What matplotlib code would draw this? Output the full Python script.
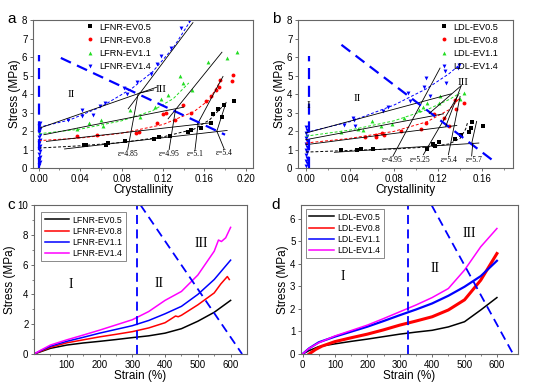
import matplotlib.pyplot as plt

plt.rcParams['font.family'] = ['Liberation Sans', 'DejaVu Sans']

# ---------------- panel a data (crystallinity vs stress) ----------------
a_names = ['LFNR-EV0.5', 'LFNR-EV0.8', 'LFRN-EV1.1', 'LFNR-EV1.4']
a_x_05 = [0.044, 0.0455, 0.065, 0.067, 0.083, 0.111, 0.116, 0.127, 0.1445, 0.147, 0.157, 0.166, 0.168, 0.173, 0.177, 0.179, 0.189]
a_y_05 = [1.22, 1.24, 1.26, 1.35, 1.46, 1.56, 1.69, 1.74, 1.94, 2.03, 2.19, 2.43, 2.93, 3.18, 2.75, 3.38, 3.62]
a_x_08 = [0.037, 0.0565, 0.094, 0.097, 0.114, 0.12, 0.123, 0.132, 0.139, 0.147, 0.162, 0.166, 0.171, 0.174, 0.175, 0.187, 0.188]
a_y_08 = [1.71, 1.78, 1.89, 1.94, 2.46, 2.9, 2.97, 2.61, 3.4, 2.95, 3.63, 3.9, 4.23, 4.37, 4.77, 4.68, 5.04]
a_x_11 = [0.037, 0.049, 0.06, 0.062, 0.088, 0.0975, 0.112, 0.118, 0.125, 0.136, 0.139, 0.148, 0.164, 0.182, 0.192]
a_y_11 = [2.1, 2.43, 2.6, 2.25, 3.11, 2.75, 3.3, 3.72, 3.96, 4.96, 4.59, 4.23, 5.72, 5.97, 6.29]
a_x_14 = [0.028, 0.042, 0.042, 0.0525, 0.059, 0.064, 0.082, 0.085, 0.0945, 0.108, 0.114, 0.118, 0.128, 0.137, 0.145]
a_y_14 = [2.6, 3.15, 2.82, 2.88, 3.35, 3.54, 4.3, 4.0, 4.64, 5.09, 5.61, 6.06, 6.51, 7.55, 7.95]
a_zero_x = [0.0, 0.0008, 0.0, 0.0008, 0.0, 0.0008, 0.0, 0.0008, 0.0, 0.0008, 0.0, 0.0008, 0.0, 0.0008, 0.0, 0.0008]
a_zero_y = [0.15, 0.3, 0.45, 0.6, 0.75, 0.9, 1.05, 1.2, 1.35, 1.5, 1.65, 1.8, 1.95, 2.1, 2.25, 2.45]

# dashed fit curves
a_fx_05 = [0, 0.04, 0.08, 0.12, 0.15, 0.165, 0.177]
a_fy_05 = [1.08, 1.2, 1.38, 1.68, 2.1, 2.6, 3.3]
a_fx_08 = [0, 0.04, 0.08, 0.12, 0.15, 0.165, 0.177]
a_fy_08 = [1.48, 1.62, 1.88, 2.35, 3.05, 3.7, 4.85]
a_fx_11 = [0, 0.04, 0.08, 0.11, 0.13, 0.145]
a_fy_11 = [1.85, 2.1, 2.55, 3.1, 3.75, 4.6]
a_fx_14 = [0, 0.03, 0.06, 0.09, 0.11, 0.13, 0.147]
a_fy_14 = [2.2, 2.6, 3.3, 4.3, 5.2, 6.5, 8.0]

# black two-stage linear fits ((x0, x1), (y0, y1))
a_lines = [((0.001, 0.114), (2.16, 4.37)), ((0.0865, 0.149), (3.2, 7.86)),
           ((0.005, 0.14), (1.8, 3.29)), ((0.125, 0.177), (2.66, 6.26)),
           ((0.0075, 0.164), (1.44, 2.43)), ((0.153, 0.178), (2.34, 4.95)),
           ((0.025, 0.182), (1.03, 2.03)), ((0.172, 0.181), (1.98, 3.55))]
a_eps_text = ['ε=4.85', 'ε=4.95', 'ε=5.1', 'ε=5.4']
a_eps_x = [0.086, 0.126, 0.151, 0.179]
a_eps_y = [0.55, 0.55, 0.55, 0.6]
a_eps_tip = [(0.096, 4.0), (0.132, 3.12), (0.154, 2.4), (0.172, 2.0)]

# ---------------- panel b data ----------------
b_names = ['LDL-EV0.5', 'LDL-EV0.8', 'LDL-EV1.1', 'LDL-EV1.4']
b_x_05 = [0.0324, 0.0463, 0.0503, 0.061, 0.1097, 0.115, 0.117, 0.121, 0.135, 0.1405, 0.148, 0.1495, 0.1505, 0.161]
b_y_05 = [0.95, 0.99, 1.03, 1.04, 1.04, 1.29, 1.2, 1.38, 1.58, 1.8, 1.95, 2.15, 2.48, 2.28]
b_x_08 = [0.054, 0.0633, 0.064, 0.0695, 0.071, 0.086, 0.105, 0.109, 0.116, 0.125, 0.13, 0.135, 0.136, 0.144]
b_y_08 = [1.67, 1.8, 1.65, 1.89, 1.8, 1.98, 2.1, 2.46, 2.91, 2.7, 2.25, 3.69, 3.2, 3.5]
b_x_11 = [0.032, 0.047, 0.052, 0.06, 0.068, 0.078, 0.089, 0.1025, 0.1066, 0.11, 0.121, 0.122, 0.14, 0.144]
b_y_11 = [1.92, 2.1, 2.07, 2.52, 2.25, 2.37, 2.7, 3.11, 3.29, 3.5, 3.54, 3.87, 3.72, 4.08]
b_x_14 = [0.0346, 0.0426, 0.044, 0.045, 0.0704, 0.075, 0.0927, 0.095, 0.1075, 0.1087, 0.113, 0.1266, 0.1275, 0.1378, 0.139]
b_y_14 = [2.34, 2.7, 2.57, 2.28, 3.09, 3.29, 4.08, 3.6, 4.37, 4.86, 3.87, 5.22, 4.62, 5.43, 5.56]
b_zero_x = [0.0, 0.0008, 0.0, 0.0008, 0.0, 0.0008, 0.0, 0.0008, 0.0, 0.0008, 0.0, 0.0008, 0.0, 0.0008, 0.0]
b_zero_y = [0.1, 0.25, 0.4, 0.55, 0.7, 0.85, 1.0, 1.15, 1.3, 1.45, 1.6, 1.75, 1.9, 2.05, 2.2]

b_fx_05 = [0, 0.04, 0.08, 0.11, 0.13, 0.14, 0.145, 0.147]
b_fy_05 = [0.86, 0.95, 1.03, 1.13, 1.3, 1.6, 2.1, 2.5]
b_fx_08 = [0, 0.04, 0.08, 0.11, 0.13, 0.14]
b_fy_08 = [1.35, 1.6, 1.98, 2.5, 3.15, 3.8]
b_fx_11 = [0, 0.04, 0.08, 0.11, 0.13, 0.14]
b_fy_11 = [1.72, 2.05, 2.55, 3.15, 3.7, 4.05]
b_fx_14 = [0, 0.04, 0.08, 0.11, 0.13, 0.14]
b_fy_14 = [1.92, 2.5, 3.4, 4.3, 5.1, 5.6]

b_lines = [((0.0, 0.132), (1.89, 4.01)), ((0.079, 0.1218), (0.63, 5.4)),
           ((0.0, 0.125), (1.53, 2.93)), ((0.1067, 0.1385), (0.72, 3.96)),
           ((0.0, 0.137), (1.26, 2.3)), ((0.1294, 0.14), (0.72, 3.87)),
           ((0.026, 0.157), (0.85, 1.35)), ((0.1506, 0.155), (1.35, 2.52))]
b_eps_text = ['ε=4.95', 'ε=5.25', 'ε=5.4', 'ε=5.7']
b_eps_x = [0.078, 0.104, 0.13, 0.153]
b_eps_y = [0.2, 0.2, 0.2, 0.2]

# ---------------- panel c data (strain vs stress) ----------------
c_names = ['LFNR-EV0.5', 'LFNR-EV0.8', 'LFNR-EV1.1', 'LFNR-EV1.4']
c_x = [0, 20, 50, 100, 150, 200, 250, 300, 350, 400, 450, 500, 550, 600]
c_y_05 = [0, 0.15, 0.38, 0.6, 0.74, 0.85, 0.97, 1.1, 1.22, 1.4, 1.7, 2.2, 2.8, 3.6]
c_y_11 = [0, 0.22, 0.52, 0.85, 1.12, 1.4, 1.65, 1.9, 2.25, 2.7, 3.2, 4.0, 5.0, 6.3]
c_x_08 = [0, 20, 50, 100, 150, 200, 250, 300, 350, 400, 425, 432, 440, 450, 500, 550, 570, 590, 596]
c_y_08 = [0, 0.18, 0.45, 0.75, 0.95, 1.15, 1.32, 1.5, 1.75, 2.1, 2.45, 2.55, 2.5, 2.6, 3.3, 4.1, 4.7, 5.2, 5.0]
c_x_14 = [0, 20, 50, 100, 150, 200, 250, 300, 350, 400, 450, 500, 550, 563, 572, 585, 600]
c_y_14 = [0, 0.25, 0.6, 0.95, 1.27, 1.6, 1.95, 2.3, 2.85, 3.6, 4.2, 5.3, 6.9, 7.65, 7.55, 7.8, 8.5]

# ---------------- panel d data ----------------
d_names = ['LDL-EV0.5', 'LDL-EV0.8', 'LDL-EV1.1', 'LDL-EV1.4']
d_x = [0, 20, 50, 100, 150, 200, 250, 300, 350, 400, 450, 500, 550, 600]
d_y_05 = [0, 0.15, 0.33, 0.45, 0.56, 0.66, 0.77, 0.88, 0.97, 1.05, 1.2, 1.43, 1.95, 2.5]
d_x_08 = [20, 40, 60, 100, 150, 200, 250, 300, 350, 400, 450, 500, 550, 600]
d_y_08 = [0, 0.2, 0.35, 0.55, 0.72, 0.88, 1.07, 1.28, 1.46, 1.65, 1.95, 2.4, 3.27, 4.45]
d_y_11 = [0, 0.25, 0.52, 0.77, 0.99, 1.21, 1.46, 1.72, 1.97, 2.24, 2.58, 2.98, 3.45, 4.13]
d_y_14 = [0, 0.25, 0.5, 0.8, 1.04, 1.28, 1.57, 1.87, 2.17, 2.5, 2.9, 3.72, 4.75, 5.56]

blk, red, grn, blu, mag = 'black', '#ff0000', '#22dd22', '#0000ff', '#ff00ff'
serif = 'Liberation Serif'

fig = plt.figure(figsize=(5.33, 3.85), dpi=100)
ax_a = fig.add_axes([0.0619, 0.5636, 0.4128, 0.3844])
ax_b = fig.add_axes([0.5591, 0.5636, 0.4034, 0.3844])
ax_c = fig.add_axes([0.0638, 0.0805, 0.3996, 0.387])
ax_d = fig.add_axes([0.5647, 0.0805, 0.4071, 0.387])

for ax in [ax_a, ax_b, ax_c, ax_d]:
    for s in ax.spines.values():
        s.set_color('#666666')
        s.set_linewidth(0.8)
    ax.tick_params(labelsize=7, length=2.5, width=0.6, color='#555555', pad=1.5)
    ax.tick_params(which='minor', length=1.5, width=0.5, color='#555555')
    ax.set_ylabel('Stress (MPa)', fontsize=8.5, labelpad=1)

ms = 2.8
leg_kw = dict(frameon=False, fontsize=6.6, handletextpad=0.2, labelspacing=0.45,
              borderaxespad=0.2, handlelength=1.6)

# ---- a ----
ax_a.plot(a_zero_x, a_zero_y, 'v', color=blu, ms=ms, mew=0)
ax_a.plot(a_x_05, a_y_05, 's', color=blk, ms=2.5, mew=0, label=a_names[0])
ax_a.plot(a_x_08, a_y_08, 'o', color=red, ms=ms, mew=0, label=a_names[1])
ax_a.plot(a_x_11, a_y_11, '^', color=grn, ms=ms, mew=0, label=a_names[2])
ax_a.plot(a_x_14, a_y_14, 'v', color=blu, ms=ms, mew=0, label=a_names[3])
ax_a.plot(a_fx_05, a_fy_05, '--', color=blk, lw=0.7, dashes=(3, 2))
ax_a.plot(a_fx_08, a_fy_08, '--', color=red, lw=0.7, dashes=(3, 2))
ax_a.plot(a_fx_11, a_fy_11, '--', color=grn, lw=0.7, dashes=(3, 2))
ax_a.plot(a_fx_14, a_fy_14, '--', color=blu, lw=0.7, dashes=(3, 2))
for (xs, ys) in a_lines:
    ax_a.plot(xs, ys, color=blk, lw=0.6)
ax_a.plot([0.0005, 0.0005], [0, 6.1], color=blu, lw=1.6, dashes=(5, 3))
ax_a.plot([0.0214, 0.18], [5.95, 1.8], color=blu, lw=1.6, dashes=(5, 3))
for t, x, y, tip in zip(a_eps_text, a_eps_x, a_eps_y, a_eps_tip):
    ax_a.text(x, y, t, fontsize=5.5, family=serif, ha='center', va='bottom')
    ax_a.plot([x, tip[0]], [y + 0.45, tip[1]], color=blk, lw=0.6)
ax_a.text(0.0314, 4.0, 'II', fontsize=8, family=serif, ha='center', va='center')
ax_a.text(0.1177, 4.27, 'III', fontsize=8, family=serif, ha='center', va='center')
ax_a.plot([0.111, 0.097], [4.22, 4.05], color=blk, lw=0.6)
ax_a.set_xlim(-0.0055, 0.207)
ax_a.set_ylim(0, 8)
ax_a.set_xticks([0, 0.04, 0.08, 0.12, 0.16, 0.20])
ax_a.set_xticks([0.02, 0.06, 0.10, 0.14, 0.18], minor=True)
ax_a.set_xticklabels(['0.00', '0.04', '0.08', '0.12', '0.16', '0.20'])
ax_a.set_yticks(range(0, 9))
ax_a.set_xlabel('Crystallinity', fontsize=8.5, labelpad=0)
ax_a.legend(loc='upper left', bbox_to_anchor=(0.2, 1.02), **leg_kw)

# ---- b ----
ax_b.plot(b_zero_x, b_zero_y, 'v', color=blu, ms=ms, mew=0)
ax_b.plot(b_x_05, b_y_05, 's', color=blk, ms=2.5, mew=0, label=b_names[0])
ax_b.plot(b_x_08, b_y_08, 'o', color=red, ms=ms, mew=0, label=b_names[1])
ax_b.plot(b_x_11, b_y_11, '^', color=grn, ms=ms, mew=0, label=b_names[2])
ax_b.plot(b_x_14, b_y_14, 'v', color=blu, ms=ms, mew=0, label=b_names[3])
ax_b.plot(b_fx_05, b_fy_05, '--', color=blk, lw=0.7, dashes=(3, 2))
ax_b.plot(b_fx_08, b_fy_08, '--', color=red, lw=0.7, dashes=(3, 2))
ax_b.plot(b_fx_11, b_fy_11, '--', color=grn, lw=0.7, dashes=(3, 2))
ax_b.plot(b_fx_14, b_fy_14, '--', color=blu, lw=0.7, dashes=(3, 2))
for (xs, ys) in b_lines:
    ax_b.plot(xs, ys, color=blk, lw=0.6)
ax_b.plot([0.0032, 0.0032], [0, 6.05], color=blu, lw=1.6, dashes=(5, 3))
ax_b.plot([0.0324, 0.1688], [6.66, 0.45], color=blu, lw=1.6, dashes=(5, 3))
for t, x, y in zip(b_eps_text, b_eps_x, b_eps_y):
    ax_b.text(x, y, t, fontsize=5.5, family=serif, ha='center', va='bottom')
ax_b.plot([0.1505, 0.1515], [0.65, 1.35], color=blk, lw=0.6)
ax_b.plot([0.141, 0.112], [4.45, 2.95], color=blk, lw=0.6)
ax_b.plot([0.141, 0.127], [4.45, 2.25], color=blk, lw=0.6)
ax_b.text(0.002, 3.37, 'I', fontsize=8, family=serif, ha='center', va='center')
ax_b.text(0.047, 3.78, 'II', fontsize=8, family=serif, ha='center', va='center')
ax_b.text(0.143, 4.6, 'III', fontsize=8, family=serif, ha='center', va='center')
ax_b.set_xlim(-0.007, 0.188)
ax_b.set_ylim(0, 8)
ax_b.set_xticks([0, 0.04, 0.08, 0.12, 0.16])
ax_b.set_xticks([0.02, 0.06, 0.10, 0.14, 0.18], minor=True)
ax_b.set_xticklabels(['0.00', '0.04', '0.08', '0.12', '0.16'])
ax_b.set_yticks(range(0, 9))
ax_b.set_xlabel('Crystallinity', fontsize=8.5, labelpad=0)
ax_b.legend(loc='upper left', bbox_to_anchor=(0.62, 1.02), **leg_kw)

# ---- c ----
ax_c.plot(c_x, c_y_05, color=blk, lw=1.1, label=c_names[0])
ax_c.plot(c_x_08, c_y_08, color=red, lw=1.1, label=c_names[1])
ax_c.plot(c_x, c_y_11, color=blu, lw=1.1, label=c_names[2])
ax_c.plot(c_x_14, c_y_14, color=mag, lw=1.1, label=c_names[3])
ax_c.plot([315, 315], [0, 10], color=blu, lw=1.3, dashes=(5, 3))
ax_c.plot([325, 635], [10, 0], color=blu, lw=1.3, dashes=(5, 3))
ax_c.text(112, 4.64, 'I', fontsize=10, family=serif, ha='center', va='center')
ax_c.text(383, 4.75, 'II', fontsize=10, family=serif, ha='center', va='center')
ax_c.text(511, 7.43, 'III', fontsize=10, family=serif, ha='center', va='center')
ax_c.set_xlim(0, 650)
ax_c.set_ylim(0, 10)
ax_c.set_xticks([100, 200, 300, 400, 500, 600])
ax_c.set_xticks([50, 150, 250, 350, 450, 550], minor=True)
ax_c.set_yticks([0, 2, 4, 6, 8, 10])
ax_c.set_yticks([1, 3, 5, 7, 9], minor=True)
ax_c.set_xlabel('Strain (%)', fontsize=8.5, labelpad=0)
lc = ax_c.legend(loc='upper left', bbox_to_anchor=(0.035, 0.95), fontsize=6.3, fancybox=False,
                 edgecolor='#555555', handlelength=2.8, handletextpad=0.4, labelspacing=0.25,
                 borderpad=0.35, borderaxespad=0)
lc.get_frame().set_linewidth(0.6)

# ---- d ----
ax_d.plot(d_x, d_y_05, color=blk, lw=1.1, label=d_names[0])
ax_d.plot(d_x_08, d_y_08, color=red, lw=2.2, label=d_names[1])
ax_d.plot(d_x, d_y_11, color=blu, lw=1.6, label=d_names[2])
ax_d.plot(d_x, d_y_14, color=mag, lw=1.1, label=d_names[3])
ax_d.plot([326, 326], [0, 6.6], color=blu, lw=1.3, dashes=(5, 3))
ax_d.plot([398, 650], [6.6, 0], color=blu, lw=1.3, dashes=(5, 3))
ax_d.text(125, 3.45, 'I', fontsize=10, family=serif, ha='center', va='center')
ax_d.text(408, 3.8, 'II', fontsize=10, family=serif, ha='center', va='center')
ax_d.text(516, 5.34, 'III', fontsize=10, family=serif, ha='center', va='center')
ax_d.set_xlim(-5, 665)
ax_d.set_ylim(0, 6.6)
ax_d.set_xticks([0, 100, 200, 300, 400, 500, 600])
ax_d.set_xticks([50, 150, 250, 350, 450, 550], minor=True)
ax_d.set_yticks([0, 1, 2, 3, 4, 5, 6])
ax_d.set_xlabel('Strain (%)', fontsize=8.5, labelpad=0)
ld = ax_d.legend(loc='upper left', bbox_to_anchor=(0.025, 0.97), fontsize=6.3, fancybox=False,
                 edgecolor='#555555', handlelength=2.8, handletextpad=0.4, labelspacing=0.25,
                 borderpad=0.35, borderaxespad=0)
for l in ld.get_lines():
    l.set_linewidth(1.1)
ld.get_frame().set_linewidth(0.6)

# panel letters
fig.text(0.014, 0.94, 'a', fontsize=11)
fig.text(0.51, 0.94, 'b', fontsize=11)
fig.text(0.014, 0.457, 'c', fontsize=11)
fig.text(0.51, 0.457, 'd', fontsize=11)

fig.savefig('out.png', dpi=100)
